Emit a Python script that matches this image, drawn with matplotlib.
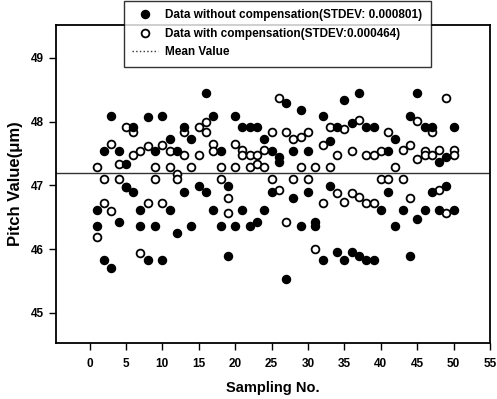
import matplotlib
matplotlib.use("Agg")
import matplotlib.pyplot as plt
from matplotlib.lines import Line2D

plt.rcParams['font.family'] = ['Liberation Sans', 'DejaVu Sans']
plt.rcParams['font.weight'] = 'bold'

# sample numbers (each sample has two readings per series)
samples = list(range(1, 51))

# data without compensation (filled), two readings per sample where visible
without_a = [46.61, 47.54, 48.09, 47.54, 47.34, 47.91, 46.61, 48.07, 47.54, 48.09,
             47.73, 47.54, 47.91, 47.73, 46.99, 48.45, 48.09, 47.54, 46.99, 48.09,
             47.91, 47.91, 47.91, 47.73, 47.54, 47.45, 48.29, 47.54, 48.18, 47.54,
             46.43, 48.08, 47.70, 47.91, 48.33, 47.98, 48.45, 47.91, 47.91, 46.61,
             47.54, 47.73, 46.61, 48.08, 48.45, 47.91, 47.91, 47.36, 47.44, 47.91]
without_b = [46.36, 45.83, 45.70, 46.43, 46.98, 46.90, 46.36, 45.83, 46.36, 45.83,
             46.61, 46.26, 46.90, 46.36, None, 46.90, 46.61, 46.36, 45.89, 46.36,
             46.61, 46.36, 46.42, 46.61, 46.90, 47.37, 45.53, 46.80, 46.36, 46.90,
             46.36, 45.83, 46.99, 45.96, 45.83, 45.96, 45.90, 45.83, 45.83, None,
             46.90, 46.36, None, 45.89, 46.48, 46.61, 46.90, 46.61, 46.99, 46.61]

# data with compensation (open)
with_a = [47.28, 47.10, 47.65, 47.34, 47.91, 47.83, 47.54, 47.62, 47.28, 47.63,
          47.54, 47.17, 47.83, 47.28, 47.92, 48.00, 47.65, 47.28, 46.80, 47.65,
          47.55, 47.47, 47.47, 47.55, 47.83, 48.37, 47.84, 47.73, 47.75, 47.83,
          47.28, 47.63, 47.92, 47.47, 47.88, 47.54, 48.02, 47.47, 47.47, 47.54,
          47.83, 47.28, 47.55, 47.63, 48.01, 47.54, 47.83, 47.55, 48.37, 47.55]
with_b = [46.19, 46.73, 46.60, 47.10, 46.97, 47.47, 45.94, 46.73, 47.10, 46.73,
          47.28, 47.10, 47.47, None, 47.47, 47.83, 47.54, 47.10, 46.56, 47.28,
          47.47, 47.28, 47.34, 47.28, 47.10, 46.93, 46.42, 47.10, 47.28, 47.10,
          46.00, 46.73, 47.28, 46.88, 46.74, 46.88, 46.81, 46.73, 46.73, 47.10,
          47.10, None, 47.10, 46.80, 47.41, 47.47, 47.47, 46.93, 46.56, 47.47]

mean_value = 47.19
x_ticks = list(range(0, 60, 5))
y_ticks = [45, 46, 47, 48, 49]


def pairs(xs, ya, yb):
    px, py = [], []
    for x, a, b in zip(xs, ya, yb):
        for v in (a, b):
            if v is not None:
                px.append(x)
                py.append(v)
    return px, py


fx, fy = pairs(samples, without_a, without_b)
ox, oy = pairs(samples, with_a, with_b)

fig = plt.figure(figsize=(4.97, 3.99), dpi=100)
ax = fig.add_axes([0.1127, 0.1404, 0.8733, 0.7966])

ax.axhline(mean_value, color='#333333', lw=1.0, zorder=1)
ax.plot(fx, fy, 'o', color='black', ms=5.8, zorder=3)
ax.plot(ox, oy, 'o', mfc='white', mec='black', mew=1.3, ms=5.6, zorder=2)

ax.set_xlim(-4.6, 55)
ax.set_ylim(44.53, 49.51)
ax.set_xticks(x_ticks)
ax.set_yticks(y_ticks)
ax.tick_params(direction='out', length=5, width=1, labelsize=8.5, top=False, right=False)
ax.tick_params(axis='x', pad=6)
for lab in ax.get_xticklabels() + ax.get_yticklabels():
    lab.set_fontweight('bold')
for sp in ax.spines.values():
    sp.set_linewidth(1.3)

ax.set_xlabel('Sampling No.', fontsize=10.5, fontweight='bold', labelpad=8)
ax.set_ylabel('Pitch Value(\u03bcm)', fontsize=12, fontweight='bold', labelpad=6)

handles = [
    Line2D([], [], ls='none', marker='o', color='black', ms=5.8),
    Line2D([], [], ls='none', marker='o', mfc='white', mec='black', mew=1.3, ms=5.6),
    Line2D([], [], ls=':', color='#333333', lw=1.0),
]
labels = ['Data without compensation(STDEV: 0.000801)',
          'Data with compensation(STDEV:0.000464)',
          'Mean Value']
leg = fig.legend(handles, labels, loc='upper left',
                 bbox_to_anchor=(124 / 497, 1 - 1 / 399),
                 frameon=True, fancybox=False, edgecolor='black',
                 prop={'weight': 'bold', 'size': 8.5},
                 handlelength=2.2, handletextpad=0.6, labelspacing=0.55,
                 borderpad=0.7, borderaxespad=0)
leg.get_frame().set_linewidth(1.0)

fig.savefig('out.png', dpi=100)
